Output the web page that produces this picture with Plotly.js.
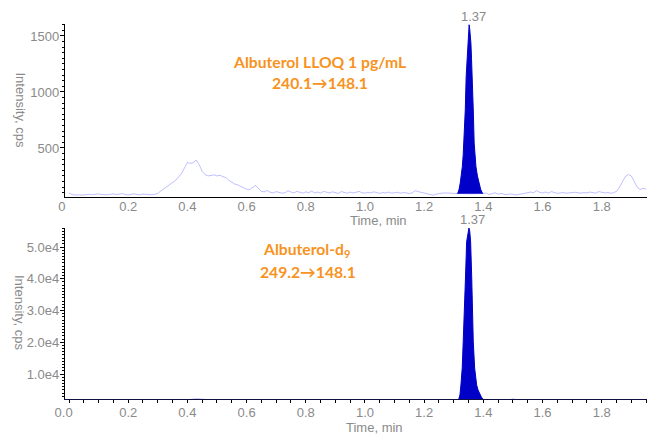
<!DOCTYPE html>
<html>
<head>
<meta charset="utf-8">
<script src="https://cdn.plot.ly/plotly-3.0.1.min.js"></script>
<style>html,body{margin:0;padding:0;background:#fff;}#chart{width:647px;height:435px;}</style>
</head>
<body>
<div id="chart"></div>
<script>
// ---- Data ----
// Top panel: Albuterol LLOQ, baseline trace sampled every 0.01 min
const topTime = [];
for (let i = 0; i <= 195; i++) topTime.push(+(i * 0.01).toFixed(2));
const topBaseline = [
  96, 84, 80, 79, 81, 80, 83, 86, 82, 84,
  90, 84, 80, 82, 86, 90, 84, 88, 92, 84,
  80, 86, 90, 84, 82, 88, 84, 80, 82, 86,
  95, 115, 135, 155, 170, 190, 210, 240, 270, 320,
  370, 362, 370, 392, 350, 290, 262, 250, 255, 260,
  250, 256, 244, 236, 212, 196, 178, 170, 155, 140,
  132, 128, 150, 165, 140, 112, 108, 120, 104, 98,
  110, 104, 96, 100, 118, 106, 98, 112, 102, 96,
  108, 100, 114, 98, 106, 96, 112, 104, 98, 108,
  100, 94, 110, 102, 96, 106, 98, 104, 112, 100,
  96, 104, 98, 108, 100, 94, 102, 98, 106, 96,
  100, 104, 96, 102, 98, 92, 100, 118, 110, 104,
  96, 90, 82, 78, 88, 94, 96, 98, 94, 96,
  94, 92, 90, 90, 90, 90, 90, 90, 90, 90,
  92, 96, 84, 90, 100, 88, 94, 86, 82, 90,
  86, 80, 84, 88, 92, 98, 106, 100, 118, 104,
  98, 106, 96, 110, 100, 94, 98, 102, 96, 100,
  98, 104, 100, 96, 102, 98, 106, 100, 96, 110,
  104, 98, 102, 96, 100, 112, 150, 200, 245, 262,
  250, 200, 150, 128, 140, 132
];
// Top panel integrated peak
const topPeakTime = [1.313, 1.318, 1.322, 1.326, 1.329, 1.332, 1.334, 1.337, 1.339, 1.342, 1.345, 1.348, 1.350, 1.352,
                     1.354, 1.356, 1.358, 1.360, 1.3625, 1.366, 1.369, 1.372, 1.375, 1.380, 1.385, 1.391, 1.398];
const topPeakInt  = [90, 130, 187, 260, 333, 440, 545, 700, 839, 1137, 1300, 1435, 1540, 1600,
                     1560, 1500, 1435, 1300, 1137, 839, 545, 420, 333, 250, 187, 130, 90];

// Bottom panel: Albuterol-d9 (internal standard)
const botTime = [0, 0.05, 0.10, 0.15, 0.20, 0.25, 0.30, 0.35, 0.40, 0.43, 0.46, 0.50, 0.55, 0.60, 0.70, 0.80,
                 0.90, 1.00, 1.10, 1.20, 1.30, 1.45, 1.50, 1.55, 1.60, 1.70, 1.80, 1.90, 1.95];
const botBaseline = [600, 550, 580, 560, 600, 580, 620, 1200, 2000, 2250, 2000, 1400, 1000, 800, 700, 650,
                     620, 600, 600, 580, 600, 800, 2200, 900, 650, 600, 620, 700, 650];
const botPeakTime = [1.312, 1.3176, 1.321, 1.3243, 1.3287, 1.332, 1.3368, 1.340, 1.3436, 1.348, 1.3514, 1.354,
                     1.357, 1.3605, 1.3625, 1.366, 1.3706, 1.3774, 1.382, 1.3885, 1.394, 1.3997, 1.406];
const botPeakInt  = [500, 2130, 3390, 6540, 11890, 20170, 30790, 41180, 51670, 55000, 56000, 55000,
                     51670, 41180, 30790, 20170, 11890, 6540, 5000, 3390, 2600, 2130, 500];

// Tick labels
const xTickVals = [0, 0.2, 0.4, 0.6, 0.8, 1.0, 1.2, 1.4, 1.6, 1.8];
const xTickTextTop = ["0\u00a0\u00a0\u00a0\u00a0", "0.2", "0.4", "0.6", "0.8", "1.0", "1.2", "1.4", "1.6", "1.8"];
const xTickTextBot = ["0.0\u00a0\u00a0\u00a0", "0.2", "0.4", "0.6", "0.8", "1.0", "1.2", "1.4", "1.6", "1.8"];
const yTickValsTop = [500, 1000, 1500];
const yTickValsBot = [10000, 20000, 30000, 40000, 50000];
const yTickTextBot = ["1.0e4", "2.0e4", "3.0e4", "4.0e4", "5.0e4"];

const peakRT = "1.37";
const topTitle1 = "Albuterol LLOQ 1 pg/mL";
const topTitle2 = "240.1\u2192148.1";
const botTitle1 = "Albuterol-d<sub>9</sub>";
const botTitle2 = "249.2\u2192148.1";

// ---- Styling ----
const gray = "#8a8a8a";
const tickFont = {family: "Liberation Sans, Arial, sans-serif", size: 13, color: gray};
const orangeFont = {family: "Lato, Open Sans, sans-serif", size: 15.7, color: "#F7931E", weight: "bold"};
const peakBlue = "#0000C8";
const xRange = [-0.0135, 1.953];

const traces = [
  {x: topTime, y: topBaseline, xaxis: "x", yaxis: "y", type: "scatter", mode: "lines",
   line: {color: "rgba(120,120,255,0.6)", width: 0.8}, hoverinfo: "skip"},
  {x: topPeakTime, y: topPeakInt, xaxis: "x", yaxis: "y", type: "scatter", mode: "lines",
   fill: "toself", fillcolor: peakBlue, line: {color: peakBlue, width: 1}, hoverinfo: "skip"},
  {x: botTime, y: botBaseline, xaxis: "x2", yaxis: "y2", type: "scatter", mode: "lines",
   line: {color: "rgba(120,120,255,0.6)", width: 0.8}, hoverinfo: "skip"},
  {x: botPeakTime, y: botPeakInt, xaxis: "x2", yaxis: "y2", type: "scatter", mode: "lines",
   fill: "toself", fillcolor: peakBlue, line: {color: peakBlue, width: 1}, hoverinfo: "skip"}
];

const layout = {
  width: 647, height: 435,
  margin: {l: 65, r: 0, t: 24, b: 36},
  paper_bgcolor: "#fff", plot_bgcolor: "#fff",
  showlegend: false,
  xaxis: {domain: [0, 1], anchor: "y", range: xRange, showgrid: false, zeroline: false,
          showline: true, linecolor: "#000", linewidth: 1.2, ticks: "", ticklabelstandoff: -3,
          tickmode: "array", tickvals: xTickVals, ticktext: xTickTextTop, tickfont: tickFont},
  yaxis: {domain: [0.5387, 1], anchor: "x", range: [62, 1607], showgrid: false, zeroline: false,
          showline: true, linecolor: "#000", linewidth: 1.2, ticks: "outside", ticklen: 4, tickcolor: "#000",
          ticklabelstandoff: -2,
          tickmode: "array", tickvals: yTickValsTop, tickfont: tickFont,
          minor: {dtick: 50, tick0: 0, ticks: "outside", ticklen: 2, tickcolor: "#000"}},
  xaxis2: {domain: [0, 1], anchor: "y2", range: xRange, showgrid: false, zeroline: false,
           showline: true, linecolor: "#101040", linewidth: 1.2, ticks: "outside", ticklen: 3, tickcolor: "#000",
           ticklabelstandoff: -2,
           tickmode: "array", tickvals: xTickVals, ticktext: xTickTextBot, tickfont: tickFont,
           minor: {dtick: 0.05, tick0: 0, ticks: "outside", ticklen: 3, tickcolor: "#000"}},
  yaxis2: {domain: [0, 0.456], anchor: "x2", range: [2126, 56000], showgrid: false, zeroline: false,
           showline: true, linecolor: "#000", linewidth: 1.2, ticks: "outside", ticklen: 4, tickcolor: "#000",
           ticklabelstandoff: -2,
           tickmode: "array", tickvals: yTickValsBot, ticktext: yTickTextBot, tickfont: tickFont,
           minor: {dtick: 1000, tick0: 0, ticks: "outside", ticklen: 2, tickcolor: "#000"}},
  annotations: [
    {text: topTitle1, xref: "paper", yref: "paper", x: 0.438, y: 0.8987, showarrow: false, font: orangeFont, xanchor: "center", yanchor: "middle"},
    {text: topTitle2, xref: "paper", yref: "paper", x: 0.439, y: 0.8427, showarrow: false, font: orangeFont, xanchor: "center", yanchor: "middle"},
    {text: botTitle1, xref: "paper", yref: "paper", x: 0.4158, y: 0.3973, showarrow: false, font: orangeFont, xanchor: "center", yanchor: "middle"},
    {text: botTitle2, xref: "paper", yref: "paper", x: 0.4167, y: 0.3387, showarrow: false, font: orangeFont, xanchor: "center", yanchor: "middle"},
    {text: peakRT, xref: "x", yref: "y", x: 1.352, y: 1600, showarrow: false, font: tickFont, xanchor: "center", yanchor: "bottom", xshift: 4, yshift: -1},
    {text: peakRT, xref: "x2", yref: "y2", x: 1.3514, y: 56000, showarrow: false, font: tickFont, xanchor: "center", yanchor: "bottom", xshift: 4, yshift: -1},
    {text: "Time, min", xref: "paper", yref: "paper", x: 0.5395, y: 0.4773, showarrow: false, font: tickFont, xanchor: "center", yanchor: "middle"},
    {text: "Time, min", xref: "paper", yref: "paper", x: 0.5326, y: -0.0773, showarrow: false, font: tickFont, xanchor: "center", yanchor: "middle"},
    {text: "Intensity, cps", xref: "paper", yref: "paper", x: -0.0765, y: 0.7707, showarrow: false, font: tickFont, textangle: 90, xanchor: "center", yanchor: "middle"},
    {text: "Intensity, cps", xref: "paper", yref: "paper", x: -0.0773, y: 0.232, showarrow: false, font: tickFont, textangle: 90, xanchor: "center", yanchor: "middle"}
  ]
};

Plotly.newPlot("chart", traces, layout, {displayModeBar: false, staticPlot: true});
</script>
</body>
</html>
